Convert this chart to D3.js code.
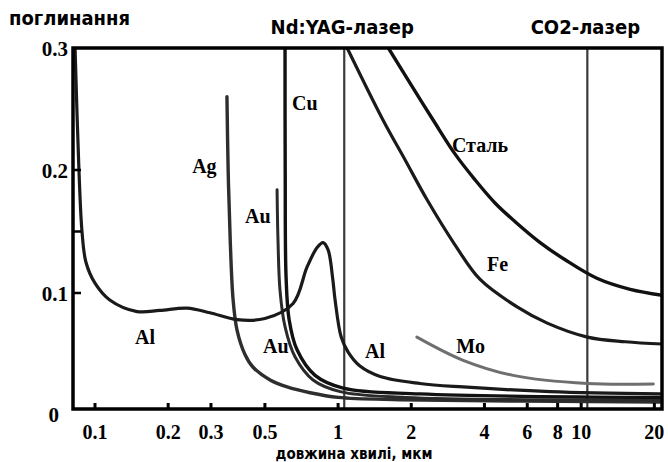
<!DOCTYPE html>
<html>
<head>
<meta charset="utf-8">
<script src="https://cdn.jsdelivr.net/npm/d3@7"></script>
<style>
    body { margin: 0; background: #fff; }
    .title { font-family: "DejaVu Sans Condensed", "DejaVu Sans", sans-serif; font-weight: bold; font-stretch: condensed; fill: #000; }
    .tick-label, .curve-label { font-family: "Liberation Serif", "Times New Roman", serif; font-weight: bold; fill: #000; }
</style>
</head>
<body>
<div id="chart"></div>
<script>
// tick values / labels
const xTicks = [0.1, 0.2, 0.3, 0.5, 1, 2, 4, 6, 8, 10, 20];
const xTickLabels = ["0.1", "0.2", "0.3", "0.5", "1", "2", "4", "6", "8", "10", "20"];
const yTicks = [0, 0.1, 0.2, 0.3];
const yTickLabels = ["0", "0.1", "0.2", "0.3"];
const yMinorTicks = [0.1, 0.15, 0.2];

// laser wavelengths, мкм
const lasers = [["Nd:YAG-лазер", 1.06], ["CO2-лазер", 10.6]];

// [wavelength мкм, absorption]
const alCurve = [[0.0828, 0.3], [0.0859, 0.2], [0.0885, 0.149], [0.0918, 0.125], [0.1, 0.108], [0.115, 0.094],
    [0.149, 0.084], [0.185, 0.085], [0.239, 0.087], [0.297, 0.083], [0.384, 0.077], [0.5, 0.078],
    [0.653, 0.091], [0.745, 0.121], [0.82, 0.137], [0.868, 0.141], [0.91, 0.135], [0.95, 0.112],
    [0.972, 0.094], [1.03, 0.062], [1.1, 0.049], [1.23, 0.037], [1.49, 0.028], [2.17, 0.022],
    [3.27, 0.019], [7.45, 0.015], [21.1, 0.013]];
const agCurve = [[0.349, 0.26], [0.353, 0.2], [0.36, 0.143], [0.37, 0.094], [0.384, 0.068], [0.414, 0.047],
    [0.447, 0.036], [0.525, 0.025], [0.617, 0.019], [0.767, 0.014], [1.0, 0.01], [1.8, 0.008], [21, 0.006]];
const auCurve = [[0.561, 0.184], [0.566, 0.143], [0.577, 0.102], [0.605, 0.071], [0.665, 0.045],
    [0.789, 0.025], [1.02, 0.015], [1.9, 0.01], [21, 0.008]];
const cuCurve = [[0.605, 0.3], [0.606, 0.2], [0.611, 0.113], [0.629, 0.077], [0.678, 0.051], [0.804, 0.029],
    [1.05, 0.018], [2.17, 0.013], [21, 0.01]];
const feCurve = [[1.09, 0.3], [1.53, 0.241], [1.89, 0.208], [2.32, 0.176], [3.03, 0.139], [3.84, 0.111],
    [5.45, 0.088], [7.25, 0.074], [10.6, 0.062], [15.2, 0.058], [21.7, 0.056]];
const steelCurve = [[1.61, 0.3], [1.98, 0.271], [2.46, 0.241], [3.03, 0.213], [3.66, 0.192], [4.43, 0.173],
    [5.35, 0.158], [6.78, 0.141], [8.59, 0.127], [11.6, 0.112], [15.9, 0.103], [21.7, 0.098]];
const moCurve = [[2.11, 0.062], [3.27, 0.042], [5.25, 0.029], [10.6, 0.022], [19.8, 0.0216]];

// curve name labels: [text, wavelength, absorption]
const curveLabels = [["Cu", 0.647, 0.249], ["Ag", 0.251, 0.1976], ["Au", 0.414, 0.157], ["Сталь", 2.94, 0.215],
    ["Fe", 4.1, 0.118], ["Al", 0.146, 0.056], ["Au", 0.491, 0.048], ["Al", 1.29, 0.044], ["Mo", 3.06, 0.048]];

const width = 668, height = 462;
const margin = {top: 48, right: 6, bottom: 53, left: 73};

const svg = d3.select("#chart").append("svg")
    .attr("width", width).attr("height", height)
    .attr("viewBox", [0, 0, width, height]);

const xScale = d3.scaleLog()
    .domain([0.0812, 21.5])
    .range([margin.left, width - margin.right]);

// the scanned axis is slightly uneven, so piecewise linear
const yScale = d3.scaleLinear()
    .domain([0, 0.1, 0.2, 0.3])
    .range([height - margin.bottom, 293, 170, margin.top]);

svg.append("clipPath").attr("id", "plot-clip")
    .append("rect")
    .attr("x", margin.left).attr("y", margin.top)
    .attr("width", width - margin.right - margin.left)
    .attr("height", height - margin.bottom - margin.top);

// laser lines
svg.append("g").selectAll("line")
    .data(lasers).join("line")
    .attr("x1", d => xScale(d[1])).attr("x2", d => xScale(d[1]))
    .attr("y1", yScale(0.3)).attr("y2", yScale(0))
    .attr("stroke", "#3a3a3a").attr("stroke-width", 2.2);

svg.append("g").selectAll("text")
    .data(lasers).join("text")
    .attr("class", "title")
    .attr("x", d => xScale(d[1]) - 2)
    .attr("y", 34)
    .attr("text-anchor", "middle")
    .attr("font-size", 20)
    .text(d => d[0]);

const line = d3.line()
    .x(d => xScale(d[0]))
    .y(d => yScale(d[1]))
    .curve(d3.curveCatmullRom.alpha(0.5));

const series = [
    [moCurve, "#6f6f6f", 3],
    [agCurve, "#2e2e2e", 3.4],
    [auCurve, "#2a2a2a", 3],
    [cuCurve, "#111", 3.4],
    [alCurve, "#1a1a1a", 3.2],
    [feCurve, "#1a1a1a", 3.2],
    [steelCurve, "#111", 3.4]
];

const curves = svg.append("g").attr("clip-path", "url(#plot-clip)");
series.forEach(s => {
    curves.append("path")
        .datum(s[0])
        .attr("d", line)
        .attr("fill", "none")
        .attr("stroke", s[1])
        .attr("stroke-width", s[2])
        .attr("stroke-linejoin", "round")
        .attr("stroke-linecap", "round");
});

// frame
svg.append("rect")
    .attr("x", margin.left).attr("y", margin.top)
    .attr("width", width - margin.right - margin.left)
    .attr("height", height - margin.bottom - margin.top)
    .attr("fill", "none")
    .attr("stroke", "#000")
    .attr("stroke-width", 3.5);

// inward ticks
svg.append("g").selectAll("line")
    .data(xTicks).join("line")
    .attr("x1", d => xScale(d)).attr("x2", d => xScale(d))
    .attr("y1", yScale(0)).attr("y2", yScale(0) - 6)
    .attr("stroke", "#000").attr("stroke-width", 3);

svg.append("g").selectAll("line")
    .data(yMinorTicks).join("line")
    .attr("x1", margin.left).attr("x2", margin.left + 8)
    .attr("y1", d => yScale(d)).attr("y2", d => yScale(d))
    .attr("stroke", "#000").attr("stroke-width", 2.5);

// tick labels
svg.append("g").selectAll("text")
    .data(xTicks).join("text")
    .attr("class", "tick-label")
    .attr("x", d => xScale(d))
    .attr("y", 439)
    .attr("text-anchor", "middle")
    .attr("font-size", 20)
    .text((d, i) => xTickLabels[i]);

svg.append("g").selectAll("text")
    .data(yTicks).join("text")
    .attr("class", "tick-label")
    .attr("x", d => d === 0 ? 59 : 68)
    .attr("y", d => yScale(d) + (d === 0 ? 13 : 8))
    .attr("text-anchor", "end")
    .attr("font-size", 21)
    .text((d, i) => yTickLabels[i]);

// curve names
svg.append("g").selectAll("text")
    .data(curveLabels).join("text")
    .attr("class", "curve-label")
    .attr("x", d => xScale(d[1]))
    .attr("y", d => yScale(d[2]))
    .attr("font-size", 20)
    .text(d => d[0]);

// axis titles
svg.append("text")
    .attr("class", "title")
    .attr("x", 9).attr("y", 25)
    .attr("font-size", 20)
    .text("поглинання");

svg.append("text")
    .attr("class", "title")
    .attr("x", 354).attr("y", 459)
    .attr("text-anchor", "middle")
    .attr("font-size", 15)
    .text("довжина хвилі, мкм");
</script>
</body>
</html>
